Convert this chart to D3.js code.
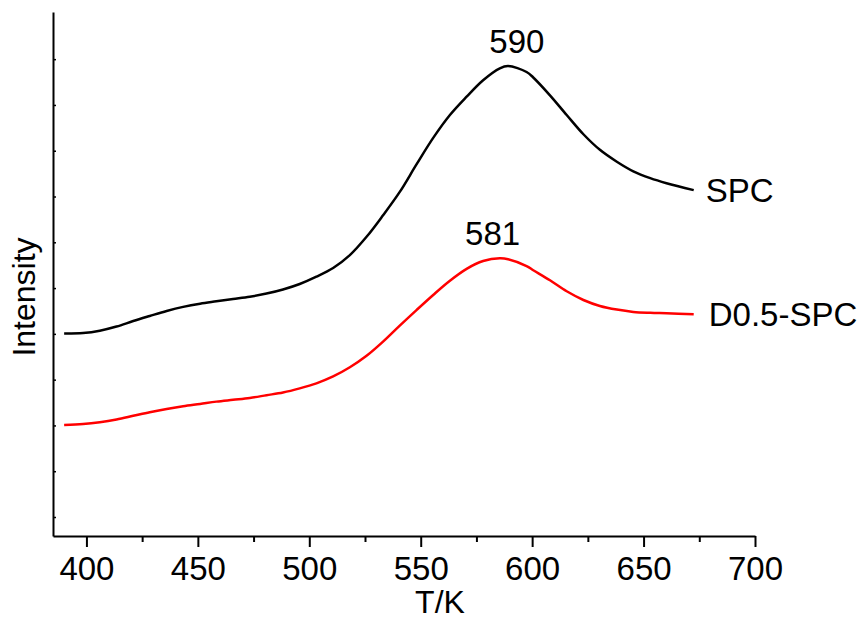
<!DOCTYPE html>
<html>
<head>
<meta charset="utf-8">
<script src="https://cdn.jsdelivr.net/npm/d3@7"></script>
<style>
  body { margin: 0; background: #fff; }
  svg text { font-family: "Liberation Sans", Arial, sans-serif; fill: #000; }
</style>
</head>
<body>
<div id="chart"></div>
<script>
// Temperature (K) sampled along both traces
const temps = [390, 398.5, 406, 413.5, 421, 428.4, 436, 443.4, 451, 458.3, 465.8, 473.3, 480.8,
  488.2, 495.7, 503.2, 510.7, 518.2, 525.7, 533.1, 540.6, 548.1, 555.6, 563.1, 570.6, 578,
  585.5, 589.2, 597.5, 600.5, 608, 615.5, 623, 630.4, 638, 645.4, 653, 660.3, 672.5];

// Intensity (arbitrary units, offset traces)
const spcValues = [4.01, 4.02, 4.07, 4.16, 4.28, 4.39, 4.50, 4.59, 4.66, 4.71, 4.76, 4.81, 4.88,
  4.97, 5.09, 5.25, 5.44, 5.72, 6.12, 6.59, 7.10, 7.70, 8.28, 8.78, 9.18, 9.54,
  9.80, 9.85, 9.72, 9.60, 9.21, 8.78, 8.36, 8.02, 7.76, 7.55, 7.40, 7.29, 7.14];

const d05Values = [2.01, 2.03, 2.07, 2.13, 2.21, 2.29, 2.36, 2.42, 2.47, 2.52, 2.56, 2.60, 2.66,
  2.72, 2.81, 2.92, 3.07, 3.27, 3.52, 3.83, 4.18, 4.52, 4.85, 5.16, 5.42, 5.59,
  5.65, 5.63, 5.48, 5.39, 5.17, 4.93, 4.74, 4.61, 4.53, 4.48, 4.46, 4.45, 4.43];

const seriesNames = ["SPC", "D0.5-SPC"];
const seriesColors = ["#000000", "#ff0000"];
const peakLabels = ["590", "581"];
const peakTemps = [590, 584.5];
const xTicks = [400, 450, 500, 550, 600, 650, 700];

const width = 867, height = 621;
const margin = { top: 12, right: 112, bottom: 85, left: 53 };

const svg = d3.select("#chart").append("svg")
  .attr("width", width)
  .attr("height", height);

const x = d3.scaleLinear().domain([385, 700]).range([margin.left, width - margin.right]);
const y = d3.scaleLinear().domain([-0.415, 11.03]).range([height - margin.bottom, margin.top]);

// x axis: major ticks every 50, minor every 25
const xAxisG = svg.append("g").attr("transform", `translate(0,${height - margin.bottom})`);
xAxisG.call(d3.axisBottom(x).tickValues(d3.range(425, 700, 50)).tickSize(6).tickFormat(""))
  .call(g => g.select(".domain").remove());
xAxisG.append("g")
  .call(d3.axisBottom(x).tickValues(xTicks).tickSize(11).tickSizeOuter(0).tickPadding(10))
  .call(g => g.selectAll("text").style("font-size", "33px").attr("fill", "#000")
    .attr("dy", "0.71em"));
xAxisG.selectAll("line").attr("stroke", "#000").attr("stroke-width", 2);
xAxisG.selectAll(".domain").attr("stroke", "#000").attr("stroke-width", 2);

// y axis: inward ticks, no labels
const yAxisG = svg.append("g").attr("transform", `translate(${margin.left},0)`);
yAxisG.call(d3.axisRight(y).tickValues(d3.range(0, 11)).tickSize(3).tickSizeOuter(0).tickFormat(""));
yAxisG.selectAll("line").attr("stroke", "#000").attr("stroke-width", 1.5);
yAxisG.select(".domain").attr("stroke", "#000").attr("stroke-width", 2);

// lines
const line = d3.line()
  .x(d => x(d[0]))
  .y(d => y(d[1]))
  .curve(d3.curveCatmullRom.alpha(0.5));

const allValues = [spcValues, d05Values];
allValues.forEach((vals, i) => {
  const pts = temps.map((t, k) => [t, vals[k]]);
  svg.append("path")
    .datum(pts)
    .attr("d", line)
    .attr("fill", "none")
    .attr("stroke", seriesColors[i])
    .attr("stroke-width", 2.5)
    .attr("stroke-linejoin", "round");

  const last = pts[pts.length - 1];
  svg.append("text")
    .attr("x", x(last[0]) + (i === 0 ? 12 : 15))
    .attr("y", y(last[1]) + 12)
    .style("font-size", "33px")
    .text(seriesNames[i]);

  const peakVal = d3.max(vals);
  svg.append("text")
    .attr("x", x(peakTemps[i]) + (i === 0 ? 7 : -5))
    .attr("y", y(peakVal) - 13)
    .attr("text-anchor", "middle")
    .style("font-size", "33px")
    .text(peakLabels[i]);
});

// axis titles
svg.append("text")
  .attr("x", 440)
  .attr("y", 613)
  .attr("text-anchor", "middle")
  .style("font-size", "32px")
  .text("T/K");

svg.append("text")
  .attr("transform", "translate(35,297) rotate(-90)")
  .attr("text-anchor", "middle")
  .style("font-size", "32px")
  .text("Intensity");
</script>
</body>
</html>
